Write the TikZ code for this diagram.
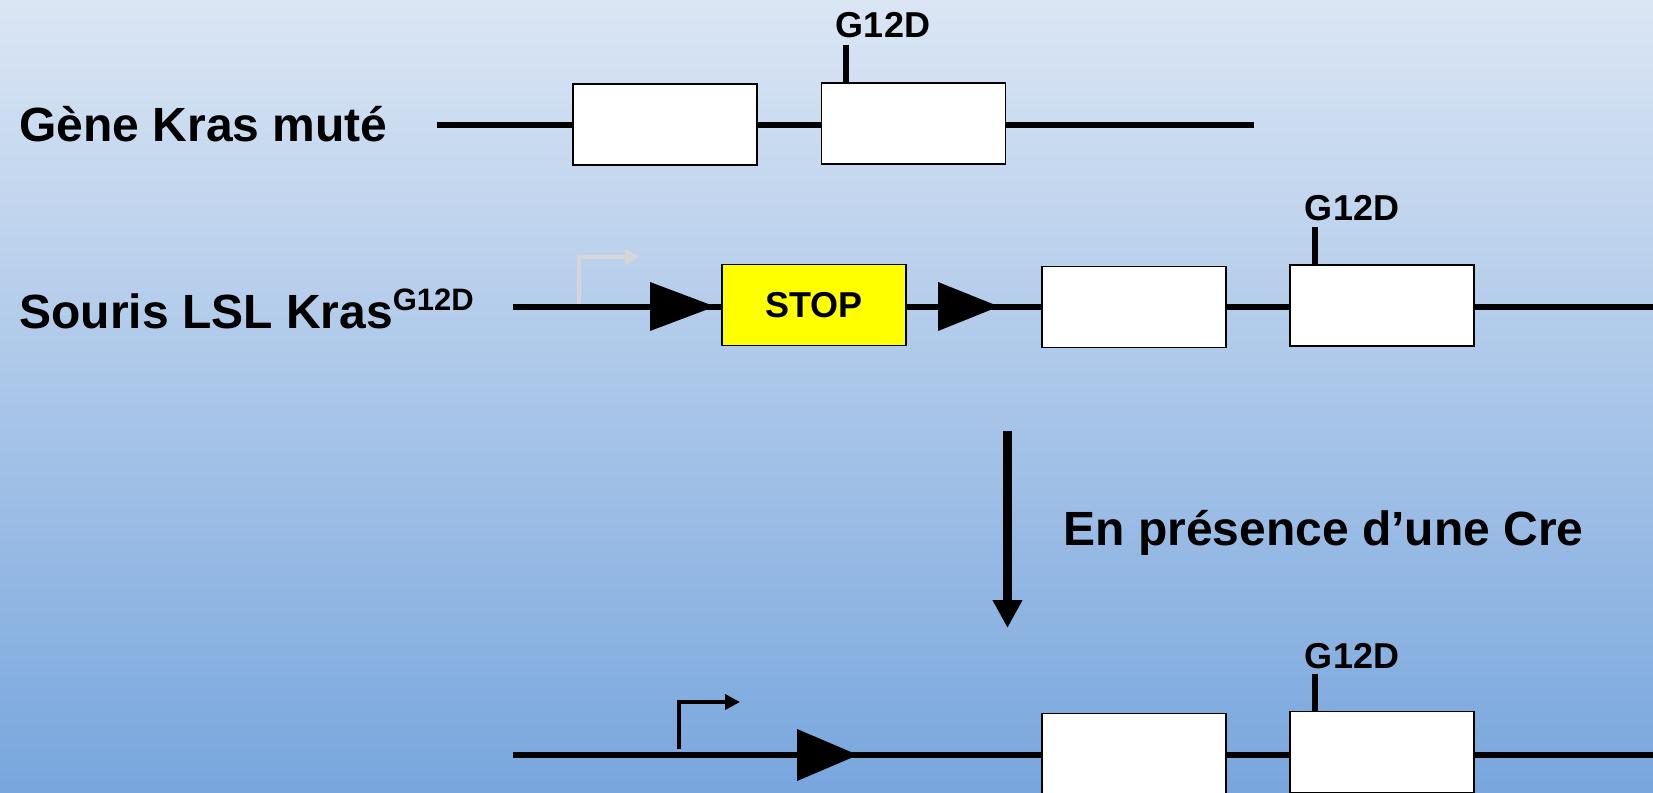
\documentclass[tikz,border=0pt]{standalone}
\usepackage{fontspec}
\setmainfont{Liberation Sans}
\usetikzlibrary{arrows.meta}
\definecolor{bgtop}{RGB}{219,230,244}
\definecolor{bgbot}{RGB}{120,166,221}
\definecolor{stopyellow}{RGB}{255,255,0}
\definecolor{promgray}{RGB}{214,214,214}

\tikzset{
  dna/.style={line width=3pt},
  exon/.style={draw, line width=0.7pt, fill=white, minimum width=92pt,
    minimum height=40.5pt, inner sep=0pt},
  stopbox/.style={exon, fill=stopyellow, font=\fontsize{18}{18}\selectfont\bfseries},
  lox/.style={fill=black},
  tick/.style={line width=2.8pt},
  mutlabel/.style={font=\fontsize{18}{18}\selectfont\bfseries, anchor=base, inner sep=0pt},
  rowlabel/.style={font=\fontsize{24}{24}\selectfont\bfseries, anchor=base west, inner sep=0pt},
  promoter/.style={line width=2.4pt, -{Triangle[length=7.5pt,width=7.5pt]}},
  crearrow/.style={line width=4.8pt, -{Triangle[length=14pt,width=14pt]}},
}

\begin{document}
\begin{tikzpicture}[x=0.5pt,y=-0.5pt]
% background
\shade[top color=bgtop,bottom color=bgbot] (0,0) rectangle (1653,792);
\useasboundingbox (0,0) rectangle (1653,792);

% ---- mutated Kras gene ----
\coordinate (r1a) at (437,125);
\coordinate (r1b) at (1254,125);
\draw[dna] (r1a) -- (r1b);
\node[exon] (e1a) at (665,124.5) {};
\node[exon] (e1b) at (913.5,123.5) {};
\node[rowlabel] (l1) at (19,141) {Gène Kras muté};
\coordinate (t1) at (846,45);
\draw[tick] (t1) -- (t1 |- e1b.north);
\node[mutlabel] (m1) at (883,38) {G12D};

% ---- LSL Kras allele ----
\coordinate (r2a) at (513,306.5);
\coordinate (r2b) at (1660,306.5);
\draw[dna] (r2a) -- (r2b);
\coordinate (p2) at (579,304);
\coordinate (p2e) at (640,257);
\draw[promoter, promgray] (p2) |- (p2e);
\fill[lox] (650,282) -- (715,306.5) -- (650,331) -- cycle;
\node[stopbox] (stop) at (814,305) {STOP};
\fill[lox] (938,282) -- (999,306.5) -- (938,331) -- cycle;
\node[exon] (e2a) at (1134,307) {};
\node[exon] (e2b) at (1382,305.5) {};
\coordinate (t2) at (1315,227);
\draw[tick] (t2) -- (t2 |- e2b.north);
\node[mutlabel] (m2) at (1352,220) {G12D};
\node[rowlabel] (l2) at (19,328) {Souris LSL Kras\raisebox{9pt}{\fontsize{15.5}{15.5}\selectfont G12D}};

% ---- Cre recombination ----
\coordinate (d1) at (1007.5,431);
\coordinate (d2) at (1007.5,628);
\draw[crearrow] (d1) -- (d2);
\node[rowlabel] (l3) at (1063,545) {En présence d’une Cre};

% ---- recombined allele ----
\coordinate (r3a) at (513,755);
\coordinate (r3b) at (1660,755);
\draw[dna] (r3a) -- (r3b);
\coordinate (p3) at (679,749);
\coordinate (p3e) at (740,702);
\draw[promoter] (p3) |- (p3e);
\fill[lox] (797,729) -- (858,755) -- (797,781) -- cycle;
\node[exon] (e3a) at (1134,754) {};
\node[exon] (e3b) at (1382,752) {};
\coordinate (t3) at (1315,674);
\draw[tick] (t3) -- (t3 |- e3b.north);
\node[mutlabel] (m3) at (1352,668) {G12D};
\end{tikzpicture}
\end{document}
